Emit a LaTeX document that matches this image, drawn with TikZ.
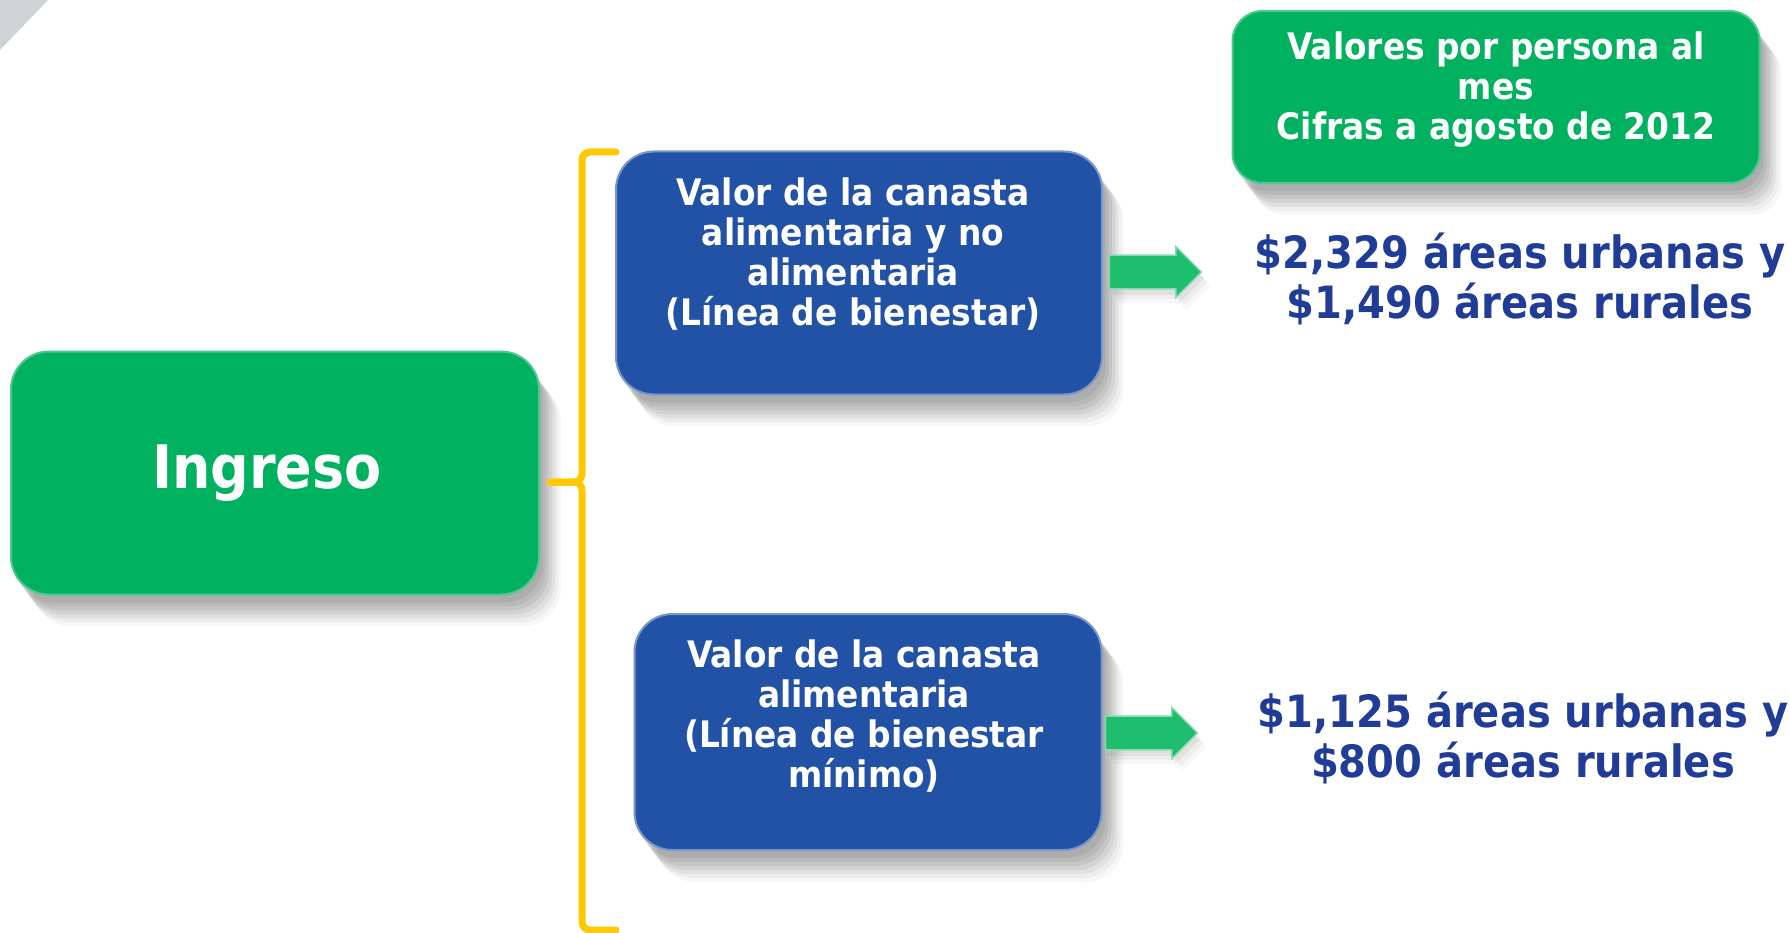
\documentclass[tikz,border=0pt]{standalone}
\usepackage{fontspec}
\setmainfont{DejaVu Sans Condensed}
\usepackage{tikz}
\usetikzlibrary{positioning,shadows,shapes.arrows}
\definecolor{verde}{RGB}{0,177,96}
\definecolor{azul}{RGB}{34,82,166}
\definecolor{azultexto}{RGB}{32,60,150}
\definecolor{amarillo}{RGB}{255,200,0}
\definecolor{verdeflecha}{RGB}{30,190,110}
\definecolor{gris}{RGB}{208,211,214}
\tikzset{soft shadow/.style={
    drop shadow={shadow xshift=4pt,shadow yshift=-8pt,opacity=.06,fill=black},
    drop shadow={shadow xshift=7pt,shadow yshift=-12pt,opacity=.06,fill=black},
    drop shadow={shadow xshift=10pt,shadow yshift=-16pt,opacity=.06,fill=black},
    drop shadow={shadow xshift=13pt,shadow yshift=-20pt,opacity=.06,fill=black},
    drop shadow={shadow xshift=16pt,shadow yshift=-24pt,opacity=.05,fill=black},
    drop shadow={shadow xshift=19pt,shadow yshift=-28pt,opacity=.04,fill=black},
    drop shadow={shadow xshift=22pt,shadow yshift=-32pt,opacity=.03,fill=black}},
  small shadow/.style={
    drop shadow={shadow xshift=3pt,shadow yshift=-6pt,opacity=.05,fill=black},
    drop shadow={shadow xshift=6pt,shadow yshift=-10pt,opacity=.04,fill=black},
    drop shadow={shadow xshift=9pt,shadow yshift=-14pt,opacity=.03,fill=black}},
  green box/.style={rounded corners=38pt,fill=verde,draw=verde!70!white,line width=2pt,soft shadow},
  blue box/.style={rounded corners=38pt,fill=azul,draw=azul!60!white,line width=2pt,soft shadow},
  box text/.style={text=white,align=center,font=\bfseries\fontsize{36.5}{40}\selectfont},
  amount text/.style={text=azultexto,align=center,font=\bfseries\fontsize{44.5}{50}\selectfont},
  flecha/.style={single arrow,fill=verdeflecha,draw=verdeflecha!55!white,line width=1.5pt,
    minimum height=92pt,minimum width=51pt,inner xsep=0pt,inner ysep=13pt,
    single arrow tip angle=90,small shadow},
  llave/.style={draw=amarillo,line width=7pt,line cap=round,rounded corners=8pt}
}

\begin{document}
\begin{tikzpicture}[x=1pt,y=-1pt]
\useasboundingbox (0,0) rectangle (1790,933);
\fill[white] (0,0) rectangle (1790,933);
\fill[gris] (0,0) -- (48,0) -- (0,50) -- cycle;

%% cajas
\node[green box,minimum width=528pt,minimum height=243pt] (ingreso) at (275,473) {};
\node[box text,font=\bfseries\fontsize{60}{66}\selectfont] (ingresotxt) at ([xshift=-8pt]ingreso.center) {Ingreso};

\node[blue box,minimum width=486pt,minimum height=243pt] (bienestar) at (859,273) {};
\node[box text] (bienestartxt) at ([yshift=19pt,xshift=-6pt]bienestar.center)
  {Valor de la canasta\\alimentaria y no\\alimentaria\\(Línea de bienestar)};

\node[blue box,minimum width=467pt,minimum height=236pt] (minimo) at (868,732) {};
\node[box text] (minimotxt) at ([yshift=16pt,xshift=-4pt]minimo.center)
  {Valor de la canasta\\alimentaria\\(Línea de bienestar\\mínimo)};

\node[green box,rounded corners=30pt,minimum width=527pt,minimum height=172pt] (valores) at (1496,97) {};
\node[box text] (valorestxt) at ([yshift=7pt]valores.center)
  {Valores por persona al\\mes\\Cifras a agosto de 2012};

%% flechas y montos
\node[flecha] (flechaA) at (1147,272) {};
\node[flecha] (flechaB) at (1143,733) {};
\node[amount text] (montoA) at (1520,279) {\$2,329 áreas urbanas y\\\$1,490 áreas rurales};
\node[amount text] (montoB) at (1523,738) {\$1,125 áreas urbanas y\\\$800 áreas rurales};

%% llave
\coordinate (punta) at (550,482);
\draw[llave] (616,152) -- (582,152) -- (582,482) -- (punta);
\draw[llave] (punta) -- (582,482) -- (582,930) -- (616,930);
\end{tikzpicture}
\end{document}
